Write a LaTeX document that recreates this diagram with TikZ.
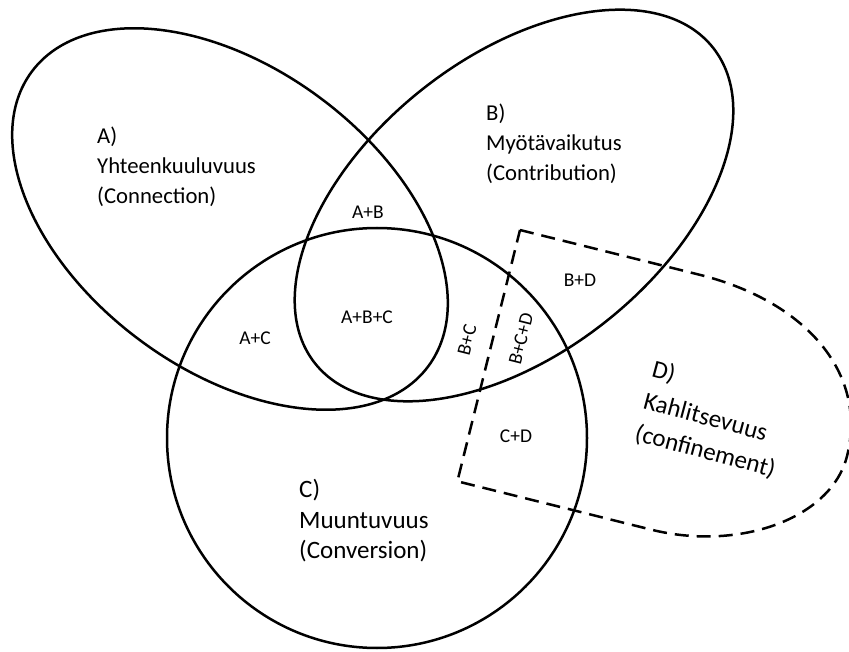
\documentclass[tikz,border=0pt]{standalone}
\usepackage{fontspec}
\setmainfont{Carlito}
\begin{document}
\begin{tikzpicture}[x=1pt,y=-1pt,
  venn/.style={draw=black, line width=2.5pt},
  dline/.style={draw=black, line width=2.5pt, dash pattern=on 14pt off 8pt, line join=miter},
  headA/.style={inner sep=0pt, anchor=base west, font=\fontsize{22.7}{30}\selectfont},
  headC/.style={inner sep=0pt, anchor=base west, font=\fontsize{25}{30}\selectfont},
  headD/.style={inner sep=0pt, anchor=west, align=left, rotate=-15, font=\fontsize{25}{33}\selectfont},
  zone/.style={inner sep=0pt, font=\fontsize{19.5}{24}\selectfont}]
\fill[white] (0,0) rectangle (849,652);
\useasboundingbox (0,0) rectangle (849,652);

% set A, B and C
\draw[venn, rotate around={-36.6:(230,219)}] (230,219) ellipse [x radius=247, y radius=151];
\draw[venn, rotate around={38.4:(514,205.5)}] (514,205.5) ellipse [x radius=254, y radius=148];
\draw[venn] (377,438) circle [radius=210];

% set D: rectangle with a rounded right end, tilted
\begin{scope}[shift={(520,230)}, rotate=-14]
  \draw[dline] (0,0) -- (185,0)
    .. controls (295,0) and (372,55) .. (372,140)
    .. controls (372,205) and (290,259) .. (200,259)
    -- (0,259) -- cycle;
\end{scope}

% set titles
\node[headA] (a1) at (97,144) {A)};
\node[headA] (a2) at (97,174) {Yhteenkuuluvuus};
\node[headA] (a3) at (97,204) {(Connection)};

\node[headA] (b1) at (486,121) {B)};
\node[headA] (b2) at (486,151) {Myötävaikutus};
\node[headA] (b3) at (486,181) {(Contribution)};

\node[headC] (c1) at (299,497) {C)};
\node[headC] (c2) at (299,528) {Muuntuvuus};
\node[headC] (c3) at (299,558) {(Conversion)};

\node[headD] (d) at (644,401) {D)\\Kahlitsevuus\\(confinement)};

% overlap labels
\node[zone] (ab) at (368,212) {A+B};
\node[zone] (abc) at (367,317) {A+B+C};
\node[zone] (ac) at (255,338) {A+C};
\node[zone, rotate=76] (bc) at (467,340) {B+C};
\node[zone, rotate=76] (bcd) at (521,339) {B+C+D};
\node[zone] (bd) at (580,280) {B+D};
\node[zone] (cd) at (516,436) {C+D};
\end{tikzpicture}
\end{document}
